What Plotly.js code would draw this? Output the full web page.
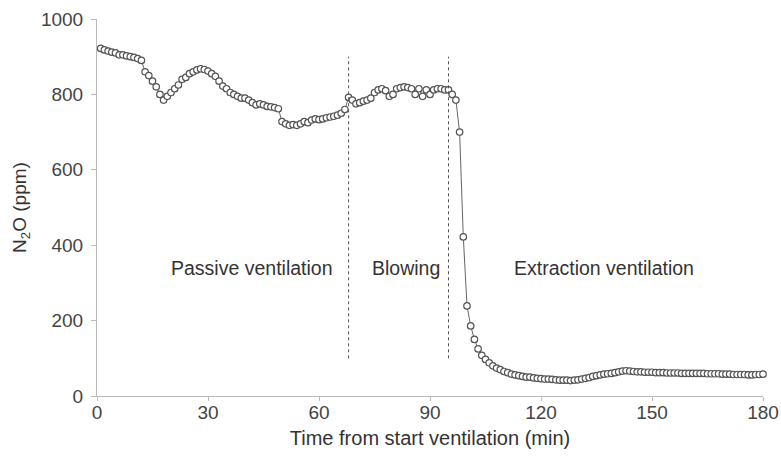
<!DOCTYPE html>
<html>
<head>
<meta charset="utf-8">
<script src="https://cdn.plot.ly/plotly-3.0.1.min.js"></script>
<style>html,body{margin:0;padding:0;background:#fff;}#chart{width:781px;height:468px;}</style>
</head>
<body>
<div id="chart"></div>
<script>
const timeMin = [1,2,3,4,5,6,7,8,9,10,11,12,13,14,15,16,17,18,19,20,
21,22,23,24,25,26,27,28,29,30,31,32,33,34,35,36,37,38,39,40,
41,42,43,44,45,46,47,48,49,50,51,52,53,54,55,56,57,58,59,60,
61,62,63,64,65,66,67,68,69,70,71,72,73,74,75,76,77,78,79,80,
81,82,83,84,85,86,87,88,89,90,91,92,93,94,95,96,97,98,99,100,
101,102,103,104,105,106,107,108,109,110,111,112,113,114,115,116,117,118,119,120,
121,122,123,124,125,126,127,128,129,130,131,132,133,134,135,136,137,138,139,140,
141,142,143,144,145,146,147,148,149,150,151,152,153,154,155,156,157,158,159,160,
161,162,163,164,165,166,167,168,169,170,171,172,173,174,175,176,177,178,179,180];
const n2oPpm = [922,918,915,912,910,905,905,902,900,898,895,890,860,850,835,820,800,785,795,805,
815,825,840,845,855,860,865,868,866,862,855,848,835,822,815,805,800,795,790,790,
785,778,772,775,772,768,767,765,762,728,722,718,720,718,722,728,725,732,735,733,
735,738,740,742,745,750,760,792,785,775,778,782,785,790,805,812,815,810,795,800,
815,818,820,818,815,800,815,795,812,800,812,815,815,812,812,800,785,700,422,239,
186,150,125,108,97,88,80,74,70,65,62,58,56,54,52,50,50,48,47,46,
45,45,44,43,42,42,42,41,42,43,45,47,49,52,54,56,58,59,60,62,
64,66,67,66,65,64,64,63,63,63,62,62,62,61,61,61,61,60,60,60,
60,60,60,60,59,59,59,59,58,58,58,57,57,57,57,56,56,57,57,58];
const phaseBounds = [68, 95];
const phaseLineY = [100, 900];
const phaseLabels = ["Passive ventilation", "Blowing", "Extraction ventilation"];
const phaseLabelX = [42, 83.5, 137];
const phaseLabelY = 340;
const xTicks = [0,30,60,90,120,150,180];
const yTicks = [0,200,400,600,800,1000];

const traces = [{
  x: timeMin, y: n2oPpm, type: 'scatter', mode: 'lines+markers',
  line: {color: '#666', width: 1},
  marker: {symbol: 'circle', size: 6.5, color: '#fff', line: {color: '#555', width: 1.2}},
  cliponaxis: false, hoverinfo: 'skip'
}];
phaseBounds.forEach(b => traces.push({
  x: [b, b], y: phaseLineY, type: 'scatter', mode: 'lines',
  line: {color: '#555', width: 1, dash: 'dot'}, hoverinfo: 'skip'
}));

const layout = {
  width: 781, height: 468,
  margin: {l: 97, r: 18, t: 19, b: 72},
  paper_bgcolor: '#fff', plot_bgcolor: '#fff',
  showlegend: false,
  font: {family: 'Liberation Sans, Arial, sans-serif', color: '#444', size: 19},
  xaxis: {
    range: [0, 180], tickvals: xTicks, ticktext: xTicks.map(String),
    showgrid: false, zeroline: false, showline: true, linecolor: '#bbb', linewidth: 1,
    ticks: 'outside', ticklen: 4, tickcolor: '#bbb', ticklabelstandoff: -5,
    tickfont: {size: 19, color: '#444'},
    title: {text: 'Time from start ventilation (min)', font: {size: 20, color: '#333'}, standoff: 9}
  },
  yaxis: {
    range: [0, 1000], tickvals: yTicks, ticktext: yTicks.map(String),
    showgrid: false, zeroline: false, showline: true, linecolor: '#bbb', linewidth: 1,
    ticks: 'outside', ticklen: 5, tickcolor: '#bbb', ticklabelstandoff: 4,
    tickfont: {size: 19, color: '#444'},
    title: {text: 'N<sub>2</sub>O (ppm)', font: {size: 19, color: '#333'}, standoff: 9}
  },
  annotations: phaseLabels.map((t, i) => ({
    x: phaseLabelX[i], y: phaseLabelY, xref: 'x', yref: 'y', text: t,
    showarrow: false, font: {size: 19.5, color: '#333'}
  }))
};
Plotly.newPlot('chart', traces, layout, {displayModeBar: false, staticPlot: true});
</script>
</body>
</html>
